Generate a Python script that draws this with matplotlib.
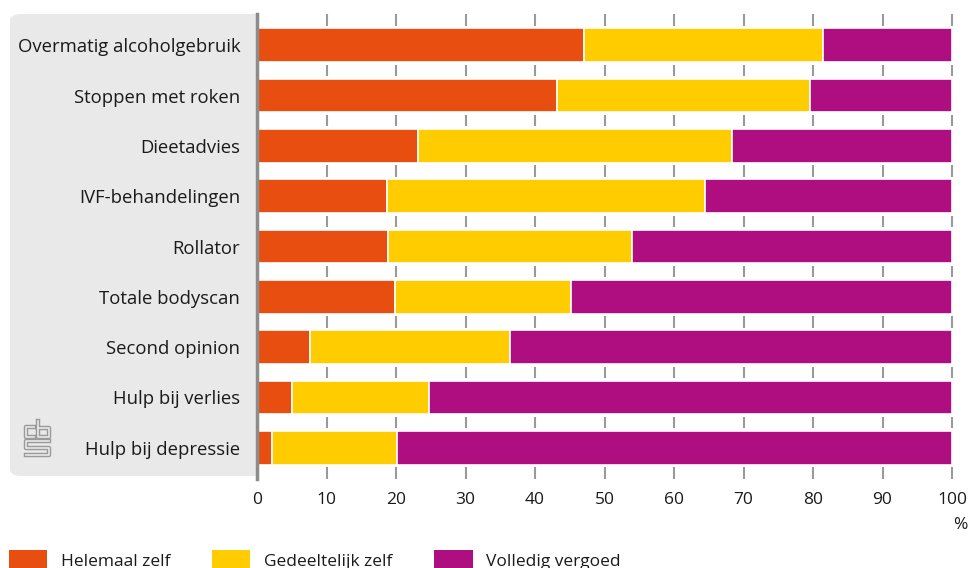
import matplotlib.pyplot as plt
from matplotlib.patches import FancyBboxPatch, Patch
from matplotlib.lines import Line2D

categories = [
    "Overmatig alcoholgebruik",
    "Stoppen met roken",
    "Dieetadvies",
    "IVF-behandelingen",
    "Rollator",
    "Totale bodyscan",
    "Second opinion",
    "Hulp bij verlies",
    "Hulp bij depressie",
]
helemaal_zelf = [47.1, 43.1, 23.1, 18.7, 18.9, 19.9, 7.6, 5.1, 2.1]
gedeeltelijk_zelf = [34.3, 36.5, 45.2, 45.7, 35.0, 25.3, 28.8, 19.7, 18.1]
volledig_vergoed = [100 - a - b for a, b in zip(helemaal_zelf, gedeeltelijk_zelf)]

series_labels = ["Helemaal zelf", "Gedeeltelijk zelf", "Volledig vergoed"]
colors = ["#e84e0f", "#ffcc00", "#af0e80"]
xticks = list(range(0, 101, 10))

plt.rcParams["font.family"] = ["Open Sans", "DejaVu Sans"]
text_color = "#1a1a1a"

W, H = 969, 568
fig = plt.figure(figsize=(W / 100, H / 100), dpi=100)


def px(x, y):
    return x / W, 1 - y / H


# axes placed in pixel terms
x0, x1, ytop, ybot = 257, 952, 15, 478
ax = fig.add_axes([x0 / W, 1 - ybot / H, (x1 - x0) / W, (ybot - ytop) / H])
ax.set_zorder(1)

# grey label panel behind the category names
panel = FancyBboxPatch(
    px(10, 476), (265 - 10) / W, (476 - 14) / H,
    boxstyle="round,pad=0,rounding_size=0.012",
    transform=fig.transFigure, facecolor="#e9e9e9", edgecolor="none", zorder=-1,
)
fig.patches.append(panel)

n = len(categories)
ypos = list(range(n))
left = [0] * n
for vals, col, lab in zip([helemaal_zelf, gedeeltelijk_zelf, volledig_vergoed], colors, series_labels):
    ax.barh(ypos, vals, left=left, height=0.67, color=col, edgecolor="white",
            linewidth=1.2, label=lab, zorder=3)
    left = [l + v for l, v in zip(left, vals)]

# short grid marks in the gaps between bars
for i in range(n + 1):
    ax.vlines(xticks[1:], i - 0.5 - 0.11, i - 0.5 + 0.11, color="#9a9a9a",
              linewidth=1.5, zorder=2, clip_on=False)

ax.set_xlim(0, 100)
ax.set_ylim(n - 0.4, -0.6)
ax.set_yticks(ypos)
ax.set_yticklabels(categories, fontsize=13.3, color=text_color)
ax.set_xticks(xticks)
ax.set_xticklabels([str(t) for t in xticks], fontsize=12.5, color=text_color)
ax.tick_params(axis="y", length=0, pad=12)
ax.tick_params(axis="x", length=0, pad=10)
for side in ["top", "right", "bottom"]:
    ax.spines[side].set_visible(False)
ax.spines["left"].set_color("#8c8c8c")
ax.spines["left"].set_linewidth(2.5)
ax.spines["left"].set_bounds(n - 0.38, -0.62)
ax.spines["left"].set_zorder(4)

fig.text(*px(968, 525), "%", ha="right", va="center", fontsize=12.5, color=text_color)

# legend along the bottom edge
handles = [Patch(facecolor=c, edgecolor="none") for c in colors]
fig.legend(handles, series_labels, loc="center left", bbox_to_anchor=px(2, 560),
           ncol=3, frameon=False, fontsize=12.5, handlelength=2.2, handleheight=1.3,
           handletextpad=0.8, columnspacing=2.4, borderaxespad=0,
           labelcolor=text_color)

# cbs logo, drawn as hollow strokes
logo = [
    [(34, 427), (26, 427), (26, 437), (34, 437)],
    [(38, 421), (38, 437), (49, 437), (49, 428), (38, 428)],
    [(49, 441), (26, 441), (26, 448), (49, 448), (49, 455), (26, 455)],
]
for path in logo:
    xs = [p[0] / W for p in path]
    ys = [1 - p[1] / H for p in path]
    fig.add_artist(Line2D(xs, ys, transform=fig.transFigure, color="#9a9a9a", linewidth=3.2))
    fig.add_artist(Line2D(xs, ys, transform=fig.transFigure, color="#e9e9e9", linewidth=1.2))

fig.savefig("out.png", dpi=100)
